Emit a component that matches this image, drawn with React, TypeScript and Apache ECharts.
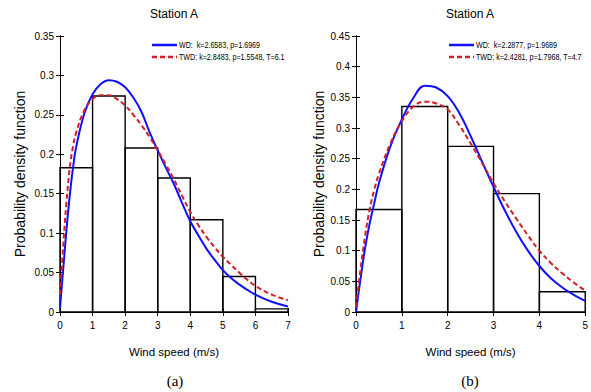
import React, { useEffect, useRef } from "react";
import * as echarts from "echarts";

// ---- data ----
const leftBinEdges = [0, 1, 2, 3, 4, 5, 6, 7];
const leftFreq = [0.183, 0.274, 0.208, 0.17, 0.117, 0.045, 0.004];
const leftCurveX = [0, 0.1, 0.2, 0.3, 0.4, 0.5, 0.75, 1, 1.25, 1.5, 1.75, 2, 2.25, 2.5, 2.75, 3, 3.25, 3.5, 3.75, 4, 4.25, 4.5, 4.75, 5, 5.25, 5.5, 5.75, 6, 6.5, 7];
const leftWD = [0.005, 0.055, 0.105, 0.148, 0.183, 0.21, 0.252, 0.276, 0.289, 0.294, 0.292, 0.285, 0.272, 0.254, 0.228, 0.205, 0.183, 0.162, 0.138, 0.115, 0.097, 0.08, 0.066, 0.053, 0.043, 0.035, 0.028, 0.022, 0.013, 0.007];
const leftTWD = [0.022, 0.085, 0.14, 0.183, 0.21, 0.228, 0.256, 0.27, 0.275, 0.275, 0.27, 0.262, 0.25, 0.237, 0.222, 0.205, 0.187, 0.168, 0.147, 0.127, 0.11, 0.095, 0.082, 0.07, 0.06, 0.05, 0.041, 0.033, 0.022, 0.015];

const rightBinEdges = [0, 1, 2, 3, 4, 5];
const rightFreq = [0.167, 0.335, 0.27, 0.193, 0.033];
const rightCurveX = [0, 0.1, 0.2, 0.3, 0.4, 0.5, 0.75, 1, 1.25, 1.5, 1.75, 2, 2.25, 2.5, 2.75, 3, 3.25, 3.5, 3.75, 4, 4.25, 4.5, 4.75, 5];
const rightWD = [0, 0.055, 0.105, 0.145, 0.178, 0.21, 0.27, 0.314, 0.349, 0.369, 0.366, 0.352, 0.325, 0.287, 0.245, 0.204, 0.165, 0.13, 0.1, 0.075, 0.055, 0.04, 0.028, 0.018];
const rightTWD = [0.008, 0.07, 0.125, 0.168, 0.2, 0.225, 0.275, 0.311, 0.335, 0.343, 0.34, 0.33, 0.305, 0.275, 0.243, 0.21, 0.18, 0.152, 0.125, 0.1, 0.08, 0.063, 0.048, 0.035];

const leftNames = ["WD:  k=2.6583, p=1.6969", "TWD: k=2.8483, p=1.5548, T=6.1"];
const rightNames = ["WD:  k=2.2877, p=1.9689", "TWD: k=2.4281, p=1.7968, T=4.7"];
const titles = ["Station A", "Station A"];
const captions = ["(a)", "(b)"];
const xName = "Wind speed (m/s)";
const yName = "Probability density function";

const FONT = "'Liberation Sans', Arial, sans-serif";
const BLUE = "#1010ff";
const RED = "#d11f2a";

function histData(edges: number[], freq: number[]) {
  return freq.map((f, i) => [edges[i], edges[i + 1], f]);
}
function pairs(xs: number[], ys: number[]) {
  return xs.map((x, i) => [x, ys[i]]);
}

const renderBar = (params: any, api: any) => {
  const x0 = api.value(0);
  const x1 = api.value(1);
  const h = api.value(2);
  const p0 = api.coord([x0, h]);
  const p1 = api.coord([x1, 0]);
  return {
    type: "rect",
    shape: { x: p0[0], y: p0[1], width: p1[0] - p0[0], height: p1[1] - p0[1] },
    style: { fill: "none", stroke: "#000", lineWidth: 1.4 },
  };
};

function legendGraphics(x: number, y: number, names: string[]) {
  const font = `9.5px ${FONT}`;
  return [
    { type: "line", shape: { x1: x, y1: y, x2: x + 25, y2: y }, style: { stroke: BLUE, lineWidth: 2.5 } },
    { type: "text", x: x + 27, y, scaleX: 0.75, style: { text: names[0], fill: "#000", font, textVerticalAlign: "middle" } },
    { type: "line", shape: { x1: x, y1: y + 12, x2: x + 25, y2: y + 12 }, style: { stroke: RED, lineWidth: 2.5, lineDash: [5, 3] } },
    { type: "text", x: x + 27, y: y + 12, scaleX: 0.75, style: { text: names[1], fill: "#000", font, textVerticalAlign: "middle" } },
  ];
}

export default function App() {
  const ref = useRef<HTMLDivElement>(null);
  useEffect(() => {
    if (!ref.current) return;
    const chart = echarts.init(ref.current, null, { renderer: "svg" });
    const axisLine = { show: true, lineStyle: { color: "#000", width: 1 } };
    const tickIn = { show: true, inside: true, length: 4, lineStyle: { color: "#000" } };
    const labelStyle = { color: "#000", fontSize: 10, fontFamily: FONT };
    const mkX = (gi: number, max: number) => [
      {
        type: "value", gridIndex: gi, min: 0, max, interval: 1, position: "bottom",
        axisLine, axisTick: tickIn, axisLabel: { ...labelStyle, margin: 8 }, splitLine: { show: false },
        name: xName, nameLocation: "middle", nameGap: 34,
        nameTextStyle: { color: "#000", fontSize: 11.5, fontFamily: FONT },
      },
      {
        type: "value", gridIndex: gi, min: 0, max, interval: 1, position: "top",
        axisLine, axisTick: tickIn, axisLabel: { show: false }, splitLine: { show: false },
      },
    ];
    const mkY = (gi: number, max: number, gap: number) => [
      {
        type: "value", gridIndex: gi, min: 0, max, interval: 0.05, position: "left",
        axisLine, axisTick: tickIn, axisLabel: { ...labelStyle, margin: 6 }, splitLine: { show: false },
        name: yName, nameLocation: "middle", nameGap: gap,
        nameTextStyle: { color: "#000", fontSize: 14, fontFamily: FONT },
      },
      {
        type: "value", gridIndex: gi, min: 0, max, interval: 0.05, position: "right",
        axisLine, axisTick: tickIn, axisLabel: { show: false }, splitLine: { show: false },
      },
    ];
    chart.setOption({
      animation: false,
      backgroundColor: "#fff",
      grid: [
        { left: 60, right: 303, top: 36, bottom: 80 },
        { left: 356, right: 5, top: 36, bottom: 80 },
      ],
      xAxis: [...mkX(0, 7), ...mkX(1, 5)],
      yAxis: [...mkY(0, 0.35, 33), ...mkY(1, 0.45, 30)],
      graphic: [
        ...legendGraphics(152, 45, leftNames),
        ...legendGraphics(449, 45, rightNames),
        { type: "text", x: 174, y: 14, style: { text: titles[0], fill: "#000", font: `12px ${FONT}`, textAlign: "center", textVerticalAlign: "middle" } },
        { type: "text", x: 470, y: 14, style: { text: titles[1], fill: "#000", font: `12px ${FONT}`, textAlign: "center", textVerticalAlign: "middle" } },
        { type: "text", x: 175, y: 381, style: { text: captions[0], fill: "#000", font: "15px 'Liberation Serif', serif", textAlign: "center", textVerticalAlign: "middle" } },
        { type: "text", x: 470, y: 381, style: { text: captions[1], fill: "#000", font: "15px 'Liberation Serif', serif", textAlign: "center", textVerticalAlign: "middle" } },
      ],
      series: [
        { type: "custom", xAxisIndex: 0, yAxisIndex: 0, renderItem: renderBar, data: histData(leftBinEdges, leftFreq), silent: true },
        { type: "line", name: leftNames[0], xAxisIndex: 0, yAxisIndex: 0, data: pairs(leftCurveX, leftWD), smooth: 0.4, symbol: "none", color: BLUE, lineStyle: { color: BLUE, width: 2 } },
        { type: "line", name: leftNames[1], xAxisIndex: 0, yAxisIndex: 0, data: pairs(leftCurveX, leftTWD), smooth: 0.4, symbol: "none", color: RED, lineStyle: { color: RED, width: 2, type: [5, 3] } },
        { type: "custom", xAxisIndex: 2, yAxisIndex: 2, renderItem: renderBar, data: histData(rightBinEdges, rightFreq), silent: true },
        { type: "line", name: rightNames[0], xAxisIndex: 2, yAxisIndex: 2, data: pairs(rightCurveX, rightWD), smooth: 0.4, symbol: "none", color: BLUE, lineStyle: { color: BLUE, width: 2 } },
        { type: "line", name: rightNames[1], xAxisIndex: 2, yAxisIndex: 2, data: pairs(rightCurveX, rightTWD), smooth: 0.4, symbol: "none", color: RED, lineStyle: { color: RED, width: 2, type: [5, 3] } },
      ],
    });
    return () => chart.dispose();
  }, []);
  return <div ref={ref} style={{ position: "absolute", left: 0, top: 0, width: 591, height: 392 }} />;
}
